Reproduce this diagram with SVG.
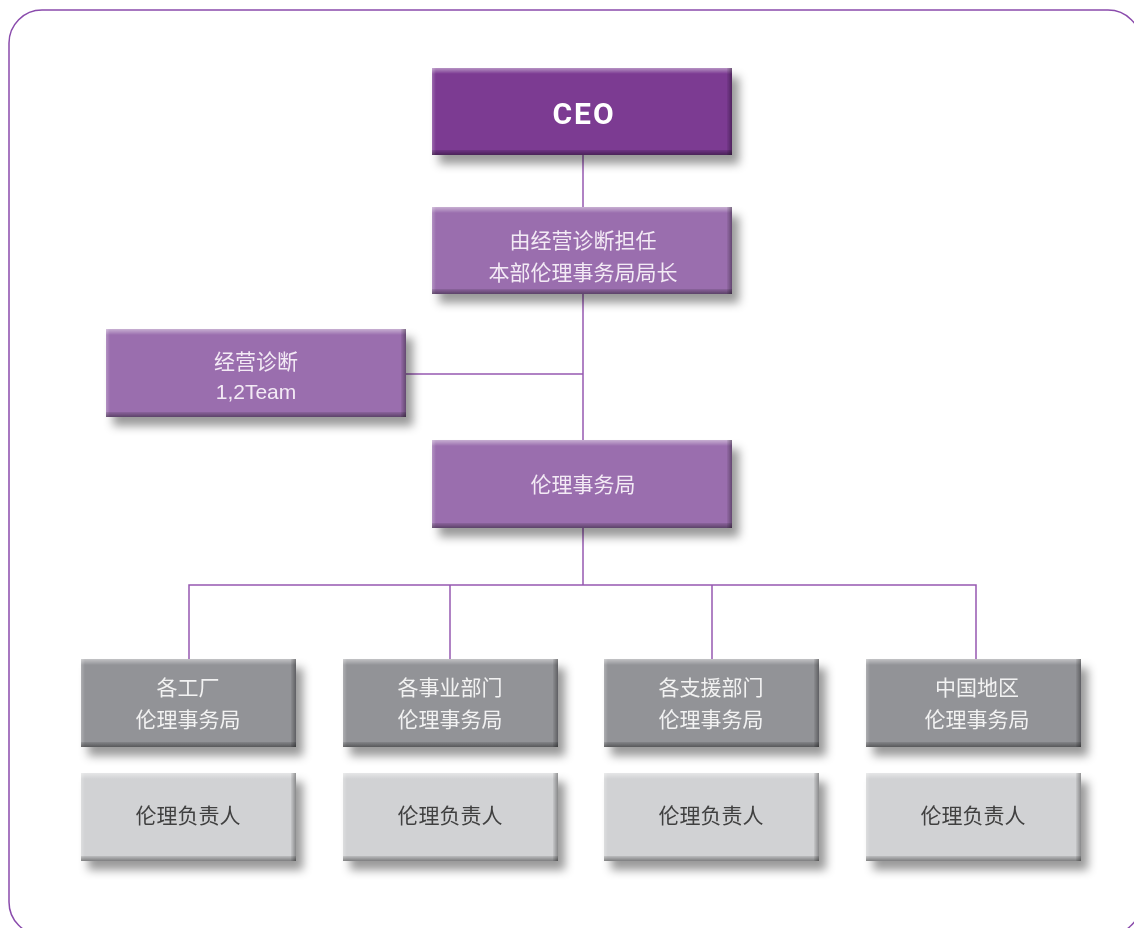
<svg xmlns="http://www.w3.org/2000/svg" width="1134" height="928" viewBox="0 0 1134 928">
<defs>
<filter id="shadow" x="-10%" y="-20%" width="130%" height="170%">
<feGaussianBlur in="SourceAlpha" stdDeviation="5"/>
<feOffset dx="7" dy="9" result="b"/>
<feFlood flood-color="#000" flood-opacity="0.4"/>
<feComposite in2="b" operator="in"/>
<feMerge><feMergeNode/><feMergeNode in="SourceGraphic"/></feMerge>
</filter>
<linearGradient id="topHi" x1="0" y1="0" x2="0" y2="1">
<stop offset="0" stop-color="#fff" stop-opacity="0.45"/>
<stop offset="1" stop-color="#fff" stop-opacity="0"/>
</linearGradient>
<linearGradient id="botSh" x1="0" y1="0" x2="0" y2="1">
<stop offset="0" stop-color="#000" stop-opacity="0.1"/>
<stop offset="1" stop-color="#000" stop-opacity="0.4"/>
</linearGradient>
<linearGradient id="rSh" x1="0" y1="0" x2="1" y2="0">
<stop offset="0" stop-color="#000" stop-opacity="0.05"/>
<stop offset="1" stop-color="#000" stop-opacity="0.35"/>
</linearGradient>
<linearGradient id="lHi" x1="0" y1="0" x2="1" y2="0">
<stop offset="0" stop-color="#fff" stop-opacity="0.25"/>
<stop offset="1" stop-color="#fff" stop-opacity="0"/>
</linearGradient>
</defs>
<style>
.frame{fill:none;stroke:#8a4bac;stroke-width:1.5}
.conn{fill:none;stroke:#9658b1;stroke-width:1.5}
.dark{fill:#7b3a92}
.mid{fill:#9a6eae}
.gray{fill:#929397}
.light{fill:#d1d2d4}
.hi{fill:url(#topHi)}
.bs{fill:url(#botSh)}
.rs{fill:url(#rSh)}
.lh{fill:url(#lHi)}
text{font-family:"Liberation Sans","Noto Sans CJK SC",sans-serif;font-size:21px;text-anchor:middle}
.wt{fill:#f3eaf5}
.gt{fill:#f2f2f2}
.dt{fill:#3f3f3f}
.ceo{font-family:Roboto,"Liberation Sans",sans-serif;font-weight:bold;font-size:30px;letter-spacing:2px;fill:#fff}
</style>
<rect class="frame" x="9" y="10" width="1132" height="925" rx="33" ry="33"/>
<g id="connectors">
<line class="conn" x1="583" y1="155" x2="583" y2="207"/>
<line class="conn" x1="583" y1="294" x2="583" y2="440"/>
<line class="conn" x1="406" y1="374" x2="583" y2="374"/>
<line class="conn" x1="583" y1="528" x2="583" y2="585"/>
<polyline class="conn" points="189,659 189,585 976,585 976,659"/>
<line class="conn" x1="450" y1="585" x2="450" y2="659"/>
<line class="conn" x1="712" y1="585" x2="712" y2="659"/>
</g>
<g id="ceo" filter="url(#shadow)">
<rect class="dark" x="432" y="68" width="300" height="87"/>
<rect class="lh" x="432" y="68" width="4" height="87"/>
<rect class="hi" x="432" y="68" width="300" height="6"/>
<rect class="rs" x="727" y="68" width="5" height="87"/>
<rect class="bs" x="432" y="150" width="300" height="5"/>
<text class="ceo" x="584" y="124">CEO</text>
</g>
<g id="head" filter="url(#shadow)">
<rect class="mid" x="432" y="207" width="300" height="87"/>
<rect class="lh" x="432" y="207" width="4" height="87"/>
<rect class="hi" x="432" y="207" width="300" height="6"/>
<rect class="rs" x="727" y="207" width="5" height="87"/>
<rect class="bs" x="432" y="289" width="300" height="5"/>
<text class="wt" x="583" y="248">由经营诊断担任</text>
<text class="wt" x="583" y="280">本部伦理事务局局长</text>
</g>
<g id="team" filter="url(#shadow)">
<rect class="mid" x="106" y="329" width="300" height="88"/>
<rect class="lh" x="106" y="329" width="4" height="88"/>
<rect class="hi" x="106" y="329" width="300" height="6"/>
<rect class="rs" x="401" y="329" width="5" height="88"/>
<rect class="bs" x="106" y="412" width="300" height="5"/>
<text class="wt" x="256" y="369">经营诊断</text>
<text class="wt" x="256" y="399">1,2Team</text>
</g>
<g id="office" filter="url(#shadow)">
<rect class="mid" x="432" y="440" width="300" height="88"/>
<rect class="lh" x="432" y="440" width="4" height="88"/>
<rect class="hi" x="432" y="440" width="300" height="6"/>
<rect class="rs" x="727" y="440" width="5" height="88"/>
<rect class="bs" x="432" y="523" width="300" height="5"/>
<text class="wt" x="583" y="492">伦理事务局</text>
</g>
<g id="factory" filter="url(#shadow)">
<rect class="gray" x="81" y="659" width="215" height="88"/>
<rect class="lh" x="81" y="659" width="4" height="88"/>
<rect class="hi" x="81" y="659" width="215" height="6"/>
<rect class="rs" x="291" y="659" width="5" height="88"/>
<rect class="bs" x="81" y="742" width="215" height="5"/>
<text class="gt" x="188" y="695">各工厂</text>
<text class="gt" x="188" y="727">伦理事务局</text>
</g>
<g id="business" filter="url(#shadow)">
<rect class="gray" x="343" y="659" width="215" height="88"/>
<rect class="lh" x="343" y="659" width="4" height="88"/>
<rect class="hi" x="343" y="659" width="215" height="6"/>
<rect class="rs" x="553" y="659" width="5" height="88"/>
<rect class="bs" x="343" y="742" width="215" height="5"/>
<text class="gt" x="450" y="695">各事业部门</text>
<text class="gt" x="450" y="727">伦理事务局</text>
</g>
<g id="support" filter="url(#shadow)">
<rect class="gray" x="604" y="659" width="215" height="88"/>
<rect class="lh" x="604" y="659" width="4" height="88"/>
<rect class="hi" x="604" y="659" width="215" height="6"/>
<rect class="rs" x="814" y="659" width="5" height="88"/>
<rect class="bs" x="604" y="742" width="215" height="5"/>
<text class="gt" x="711" y="695">各支援部门</text>
<text class="gt" x="711" y="727">伦理事务局</text>
</g>
<g id="china" filter="url(#shadow)">
<rect class="gray" x="866" y="659" width="215" height="88"/>
<rect class="lh" x="866" y="659" width="4" height="88"/>
<rect class="hi" x="866" y="659" width="215" height="6"/>
<rect class="rs" x="1076" y="659" width="5" height="88"/>
<rect class="bs" x="866" y="742" width="215" height="5"/>
<text class="gt" x="977" y="695">中国地区</text>
<text class="gt" x="977" y="727">伦理事务局</text>
</g>
<g id="resp1" filter="url(#shadow)">
<rect class="light" x="81" y="773" width="215" height="88"/>
<rect class="lh" x="81" y="773" width="4" height="88"/>
<rect class="hi" x="81" y="773" width="215" height="6"/>
<rect class="rs" x="291" y="773" width="5" height="88"/>
<rect class="bs" x="81" y="856" width="215" height="5"/>
<text class="dt" x="188" y="823">伦理负责人</text>
</g>
<g id="resp2" filter="url(#shadow)">
<rect class="light" x="343" y="773" width="215" height="88"/>
<rect class="lh" x="343" y="773" width="4" height="88"/>
<rect class="hi" x="343" y="773" width="215" height="6"/>
<rect class="rs" x="553" y="773" width="5" height="88"/>
<rect class="bs" x="343" y="856" width="215" height="5"/>
<text class="dt" x="450" y="823">伦理负责人</text>
</g>
<g id="resp3" filter="url(#shadow)">
<rect class="light" x="604" y="773" width="215" height="88"/>
<rect class="lh" x="604" y="773" width="4" height="88"/>
<rect class="hi" x="604" y="773" width="215" height="6"/>
<rect class="rs" x="814" y="773" width="5" height="88"/>
<rect class="bs" x="604" y="856" width="215" height="5"/>
<text class="dt" x="711" y="823">伦理负责人</text>
</g>
<g id="resp4" filter="url(#shadow)">
<rect class="light" x="866" y="773" width="215" height="88"/>
<rect class="lh" x="866" y="773" width="4" height="88"/>
<rect class="hi" x="866" y="773" width="215" height="6"/>
<rect class="rs" x="1076" y="773" width="5" height="88"/>
<rect class="bs" x="866" y="856" width="215" height="5"/>
<text class="dt" x="973" y="823">伦理负责人</text>
</g>
</svg>
